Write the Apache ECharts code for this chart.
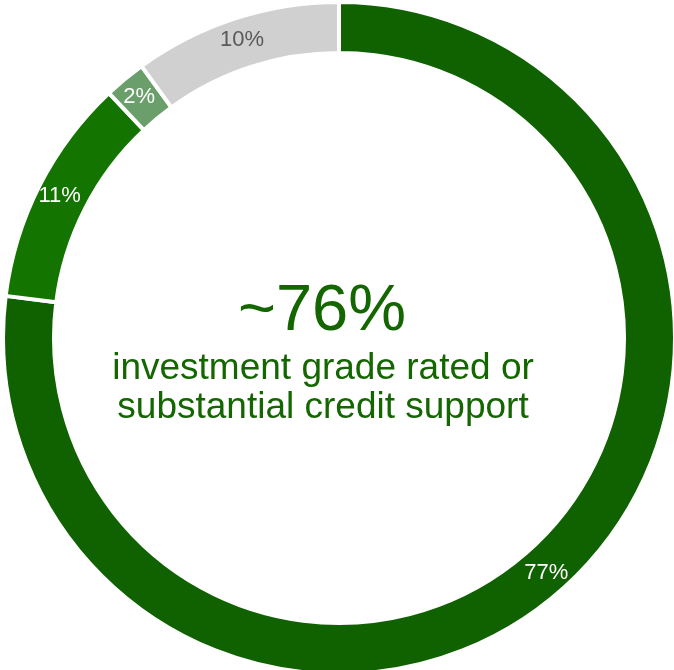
<!DOCTYPE html>
<html>
<head>
<meta charset="utf-8">
<style>
  html, body { margin: 0; padding: 0; background: #ffffff; }
  #chart { width: 674px; height: 670px; }
</style>
<script src="https://cdn.jsdelivr.net/npm/echarts@6/dist/echarts.min.js"></script>
</head>
<body>
<div id="chart"></div>
<script>
// Portfolio shares, clockwise from 12 o'clock
const sliceNames = ['Group A', 'Group B', 'Group C', 'Group D'];
const sliceShares = [77, 11, 2, 10];
const sliceColors = ['#106100', '#137500', '#6a9e6a', '#d0d0d0'];
const labelColors = ['#ffffff', '#ffffff', '#ffffff', '#595959'];

const headline = '~76%';
const captionLines = ['investment grade rated or', 'substantial credit support'];

const FONT = '"Liberation Sans", Arial, sans-serif';
const GREEN_TEXT = '#136600';

const chart = echarts.init(document.getElementById('chart'), null, { renderer: 'canvas' });

const pieData = sliceNames.map((name, i) => ({
  name: name,
  value: sliceShares[i],
  itemStyle: { color: sliceColors[i] },
  label: { color: labelColors[i] }
}));

chart.setOption({
  animation: false,
  backgroundColor: '#ffffff',
  series: [{
    type: 'pie',
    center: [339, 338],
    radius: [285, 336],
    startAngle: 90,
    clockwise: true,
    avoidLabelOverlap: false,
    itemStyle: { borderColor: '#ffffff', borderWidth: 4 },
    label: {
      show: true,
      position: 'inside',
      formatter: '{c}%',
      fontFamily: FONT,
      fontSize: 22
    },
    labelLine: { show: false },
    emphasis: { disabled: true },
    data: pieData
  }],
  graphic: [
    {
      type: 'text',
      style: {
        text: headline,
        x: 322, y: 312,
        align: 'center', verticalAlign: 'middle',
        font: '65px ' + FONT,
        fill: GREEN_TEXT
      }
    },
    {
      type: 'text',
      style: {
        text: captionLines[0],
        x: 323, y: 369,
        align: 'center', verticalAlign: 'middle',
        font: '37px ' + FONT,
        fill: GREEN_TEXT
      }
    },
    {
      type: 'text',
      style: {
        text: captionLines[1],
        x: 323, y: 408,
        align: 'center', verticalAlign: 'middle',
        font: '37px ' + FONT,
        fill: GREEN_TEXT
      }
    }
  ]
});
</script>
</body>
</html>
